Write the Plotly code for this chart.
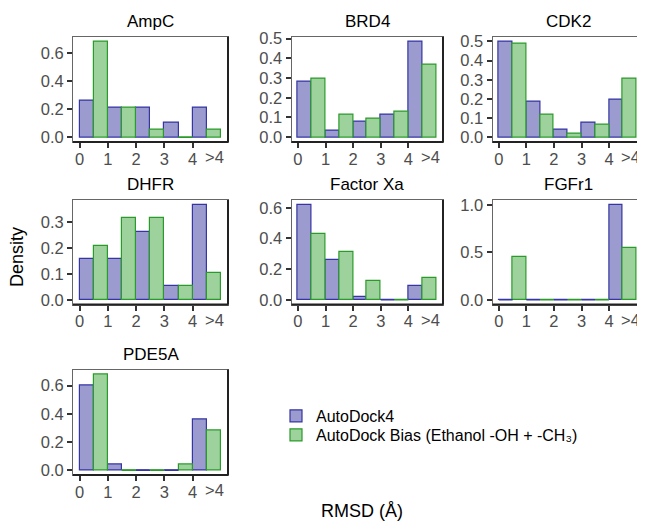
import plotly.graph_objects as go

# ---------------- data ----------------
panels = ["AmpC", "BRD4", "CDK2", "DHFR", "Factor Xa", "FGFr1", "PDE5A"]
bin_labels = ["0", "1", "2", "3", "4", ">4"]
series_names = ["AutoDock4", "AutoDock Bias (Ethanol -OH + -CH₃)"]

ad4_ampc = [0.26, 0.21, 0.21, 0.105, 0.21]
bias_ampc = [0.68, 0.21, 0.05, 0.0, 0.05]
ad4_brd4 = [0.28, 0.035, 0.08, 0.115, 0.485]
bias_brd4 = [0.295, 0.115, 0.095, 0.13, 0.365]
ad4_cdk2 = [0.50, 0.185, 0.04, 0.075, 0.195]
bias_cdk2 = [0.49, 0.12, 0.02, 0.065, 0.305]
ad4_dhfr = [0.158, 0.158, 0.263, 0.053, 0.368]
bias_dhfr = [0.21, 0.316, 0.316, 0.053, 0.105]
ad4_fxa = [0.62, 0.26, 0.02, 0.0, 0.09]
bias_fxa = [0.43, 0.31, 0.12, 0.0, 0.14]
ad4_fgfr1 = [0.0, 0.0, 0.0, 0.0, 1.0]
bias_fgfr1 = [0.45, 0.0, 0.0, 0.0, 0.55]
ad4_pde5a = [0.60, 0.04, 0.0, 0.0, 0.36]
bias_pde5a = [0.68, 0.0, 0.0, 0.04, 0.28]

ad4_all = [ad4_ampc, ad4_brd4, ad4_cdk2, ad4_dhfr, ad4_fxa, ad4_fgfr1, ad4_pde5a]
bias_all = [bias_ampc, bias_brd4, bias_cdk2, bias_dhfr, bias_fxa, bias_fgfr1, bias_pde5a]
ytick_sets = [
    [0, 0.2, 0.4, 0.6],
    [0, 0.1, 0.2, 0.3, 0.4, 0.5],
    [0, 0.1, 0.2, 0.3, 0.4, 0.5],
    [0, 0.1, 0.2, 0.3],
    [0, 0.2, 0.4, 0.6],
    [0, 0.5, 1.0],
    [0, 0.2, 0.4, 0.6],
]

# ---------------- styling ----------------
PAGE_W, PAGE_H = 645, 521
OFF = 8  # default page body margin
W, H = PAGE_W - OFF, PAGE_H - OFF
FONT = "Liberation Sans, Arial, Helvetica, sans-serif"
TICKSIZE = 16.5
fills = ["#9b9bd0", "#9dd29d"]
lines = ["#3535a3", "#2a9a2a"]
offsets = [0.25, 0.75]
legend_ids = ["legend", "legend2"]
legend_tops = [399, 418]


def px_x(px):
    return (px - OFF) / W


def px_y(py):
    return 1 - (py - OFF) / H


col_px = [(73, 228), (291.5, 443), (492.5, 643.5)]
row_px = [(36.7, 142), (200, 304.5), (369.5, 475)]
grid = [(0, 0), (0, 1), (0, 2), (1, 0), (1, 1), (1, 2), (2, 0)]

fig = go.Figure()
layout = {}
annotations = []
shapes = []

for k, name in enumerate(panels):
    r, c = grid[k]
    ax = "" if k == 0 else str(k + 1)
    xref, yref = "x" + ax, "y" + ax
    series = [ad4_all[k], bias_all[k]]
    nb = len(series[0])
    for s in range(2):
        vals = series[s]
        xs = [i + offsets[s] for i in range(nb)]
        fig.add_trace(go.Bar(
            x=xs, y=vals, width=0.5, xaxis=xref, yaxis=yref,
            marker=dict(color=fills[s], line=dict(color=lines[s], width=1.2)),
            name=series_names[s], legendgroup=str(s), showlegend=(k == 0),
            legend=legend_ids[s], hoverinfo="y",
        ))
        # zero-height bins drawn as flat outline segments
        zx, zy = [], []
        for i, v in enumerate(vals):
            if v == 0:
                zx += [i + offsets[s] - 0.25, i + offsets[s] + 0.25, None]
                zy += [0, 0, None]
        if zx:
            fig.add_trace(go.Scatter(
                x=zx, y=zy, mode="lines", xaxis=xref, yaxis=yref,
                line=dict(color=lines[s], width=1.5), showlegend=False,
                legendgroup=str(s), legend=legend_ids[s], hoverinfo="skip",
            ))
    m = max(max(series[0]), max(series[1]))
    x0, x1 = col_px[c]
    y0, y1 = row_px[r]
    layout["xaxis" + ax] = dict(
        domain=[px_x(x0), px_x(x1)], anchor=yref, range=[-0.23, 5.25],
        tickvals=list(range(nb)), ticktext=bin_labels[:nb],
        ticks="outside", ticklen=5, tickwidth=1.5, tickcolor="#333333",
        ticklabelstandoff=-3,
        showline=True, linecolor="#666666", linewidth=1, mirror=True,
        showgrid=False, zeroline=False, fixedrange=True, automargin=False,
        tickfont=dict(family=FONT, size=TICKSIZE, color="#4d4d4d"),
    )
    layout["yaxis" + ax] = dict(
        domain=[px_y(y1), px_y(y0)], anchor=xref, range=[-0.05 * m, 1.05 * m],
        tickvals=ytick_sets[k], tickformat=".1f",
        ticks="outside", ticklen=5, tickwidth=1.5, tickcolor="#333333",
        showline=True, linecolor="#666666", linewidth=1, mirror=True,
        showgrid=False, zeroline=False, fixedrange=True, automargin=False,
        tickfont=dict(family=FONT, size=TICKSIZE, color="#4d4d4d"),
    )
    # ">4" label (no tick mark)
    annotations.append(dict(
        x=nb - 0.22, y=0, xref=xref, yref=yref + " domain",
        text=bin_labels[nb], showarrow=False, xanchor="center", yanchor="top",
        yshift=-4,
        font=dict(family=FONT, size=TICKSIZE, color="#4d4d4d"),
    ))
    # panel title
    annotations.append(dict(
        x=px_x((x0 + x1) / 2), y=px_y(y0 - 4), xref="paper", yref="paper",
        text=name, showarrow=False, yanchor="bottom", xanchor="center",
        font=dict(family=FONT, size=17, color="#000000"),
    ))
    # darker right/bottom frame edges
    shapes.append(dict(type="line", xref=xref + " domain", yref=yref + " domain",
                       x0=1, x1=1, y0=0, y1=1, line=dict(color="#222222", width=2)))
    shapes.append(dict(type="line", xref=xref + " domain", yref=yref + " domain",
                       x0=0, x1=1, y0=0, y1=0, line=dict(color="#222222", width=2)))

annotations.append(dict(
    x=px_x(17), y=px_y(257), xref="paper", yref="paper", text="Density",
    textangle=-90, showarrow=False, xanchor="center", yanchor="middle",
    font=dict(family=FONT, size=18, color="#000000"),
))
annotations.append(dict(
    x=px_x(362), y=px_y(511), xref="paper", yref="paper", text="RMSD (Å)",
    showarrow=False, xanchor="center", yanchor="middle",
    font=dict(family=FONT, size=18, color="#000000"),
))

legend_common = dict(xanchor="left", yanchor="top",
                     font=dict(family=FONT, size=16, color="#000000"),
                     bgcolor="rgba(0,0,0,0)", tracegroupgap=0)

fig.update_layout(
    width=W, height=H, margin=dict(l=0, r=0, t=0, b=0, autoexpand=False),
    paper_bgcolor="white", plot_bgcolor="white",
    barmode="overlay", bargap=0,
    annotations=annotations, shapes=shapes,
    legend=dict(x=px_x(276), y=px_y(legend_tops[0]), **legend_common),
    legend2=dict(x=px_x(276), y=px_y(legend_tops[1]), **legend_common),
    **layout,
)

fig.write_html("out.html")
